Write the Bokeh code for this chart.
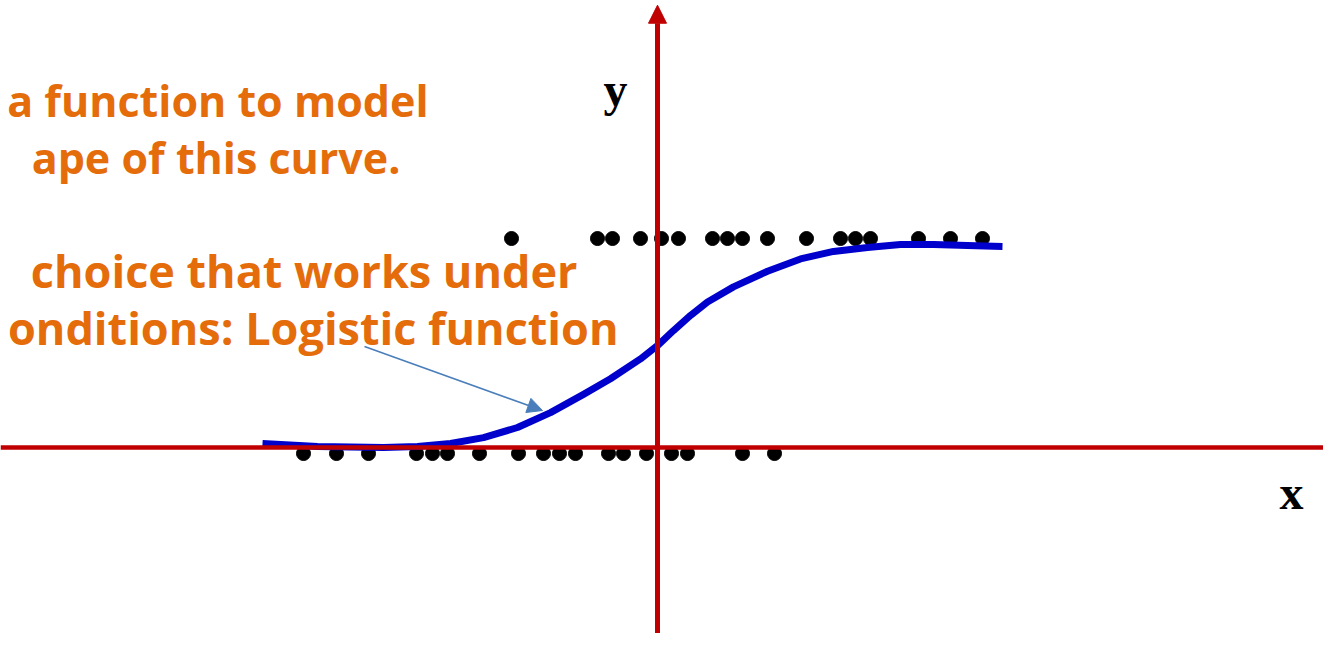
from bokeh.plotting import figure
from bokeh.models import Span, Arrow, NormalHead, Range1d
from bokeh.core.properties import value
from bokeh.embed import file_html
from bokeh.resources import INLINE

# ---- data ----
class1_x = [-2.92, -1.2, -0.9, -0.34, 0.08, 0.42, 1.1, 1.4, 1.7, 2.2,
            2.98, 3.66, 3.96, 4.26, 5.22, 5.86, 6.5]
class1_y = [1.0] * len(class1_x)
class0_x = [-7.08, -6.42, -5.78, -4.82, -4.5, -4.2, -3.56, -2.78, -2.28,
            -1.96, -1.64, -0.98, -0.68, -0.22, 0.28, 0.6, 1.7, 2.34]
class0_y = [0.0] * len(class0_x)
curve_x = [-7.9, -6.8, -5.48, -4.8, -4.14, -3.48, -2.8, -2.14, -1.48, -0.94,
           -0.34, 0.0, 0.32, 0.66, 1.0, 1.52, 2.2, 2.86, 3.52, 4.2, 4.86,
           5.52, 6.2, 6.9]
curve_y = [0.047, 0.033, 0.028, 0.033, 0.047, 0.074, 0.121, 0.19, 0.275, 0.348,
           0.44, 0.502, 0.572, 0.642, 0.705, 0.775, 0.848, 0.905, 0.94, 0.958,
           0.972, 0.972, 0.967, 0.963]
note_lines_top = ["a function to model", "ape of this curve."]
note_lines_bottom = ["choice that works under", "onditions: Logistic function"]
axis_labels = ["x", "y"]

ORANGE = "#E46C0A"
RED = "#C00000"

p = figure(width=1323, height=633, output_backend="svg", toolbar_location=None,
           x_axis_type=None, y_axis_type=None, min_border=0,
           x_range=Range1d(-13.14, 13.32), y_range=Range1d(-0.837, 2.107))
p.grid.visible = False
p.outline_line_color = None
p.background_fill_color = "white"
p.border_fill_color = "white"

# red axes
p.add_layout(Span(location=0.028, dimension="width", line_color=RED, line_width=4.5))
p.add_layout(Arrow(x_start=0, y_start=-0.837, x_end=0, y_end=2.085,
                   line_color=RED, line_width=5,
                   end=NormalHead(size=18, fill_color=RED, line_color=RED)))

# axis labels
p.text(x=[12.68], y=[-0.181], text=[axis_labels[0]], text_align="center",
       text_baseline="alphabetic", text_font=value("Liberation Serif"),
       text_font_style="bold", text_font_size="48px", text_color="black")
p.text(x=[-0.84], y=[1.693], text=[axis_labels[1]], text_align="center",
       text_baseline="alphabetic", text_font=value("Liberation Serif"),
       text_font_style="bold", text_font_size="48px", text_color="black")

# data points
p.scatter(class1_x, class1_y, size=14, color="black")
p.scatter(class0_x, class0_y, size=14, color="black")

# logistic curve
p.line(curve_x, curve_y, line_color="#0000CC", line_width=7, line_join="round")

# annotation text
p.text(x=[-4.58, -5.14], y=[1.642, 1.377],
       text=note_lines_top, text_align="right", text_baseline="alphabetic",
       text_font=value("Open Sans"), text_font_style="bold",
       text_font_size="43px", text_color=ORANGE)
p.text(x=[-1.6, -0.78], y=[0.853, 0.585],
       text=note_lines_bottom, text_align="right", text_baseline="alphabetic",
       text_font=value("Open Sans"), text_font_style="bold",
       text_font_size="45px", text_color=ORANGE)

# pointer arrow
p.add_layout(Arrow(x_start=-5.86, y_start=0.498, x_end=-2.3, y_end=0.2,
                   line_color="#4A7EBB", line_width=1.5,
                   end=NormalHead(size=15, fill_color="#4A7EBB", line_color="#4A7EBB")))

open("out.html", "w").write(file_html(p, INLINE))
